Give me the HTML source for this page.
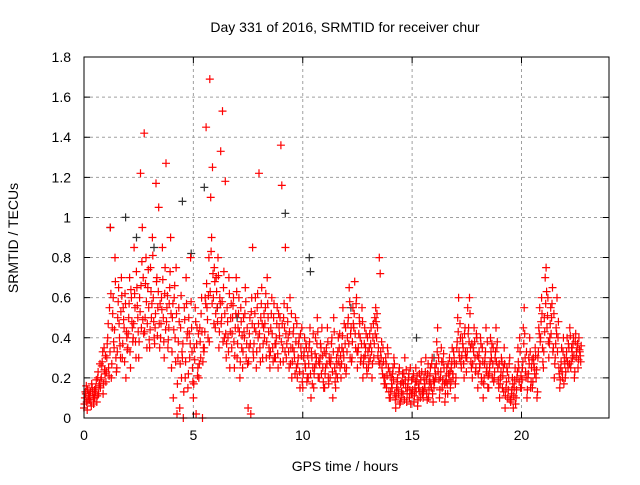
<!DOCTYPE html>
<html><head><meta charset="utf-8"><style>
body{margin:0;background:#fff}
svg text{font-family:"Liberation Sans",sans-serif;font-size:14px;fill:#000}
</style></head><body>
<svg id="chart" width="640" height="480" xmlns="http://www.w3.org/2000/svg">
<text x="345" y="32" text-anchor="middle">Day 331 of 2016, SRMTID for receiver chur</text>
<text x="345" y="471" text-anchor="middle">GPS time / hours</text>
<text transform="translate(18,238) rotate(-90)" text-anchor="middle">SRMTID / TECUs</text>
<g id="grid"></g><g id="black"></g><g id="red"></g><g id="axes"></g>
</svg>
<script>
const xTicks=[0,5,10,15,20];
const yTicks=[0,0.2,0.4,0.6,0.8,1,1.2,1.4,1.6,1.8];
const yTickLabels=["0","0.2","0.4","0.6","0.8","1","1.2","1.4","1.6","1.8"];
const binHours=0.25;
const redBins=[
[0.05,0.1,0.12,0.08,0.14,0.11],[0.09,0.13,0.06,0.15,0.11,0.1],[0.1,0.15,0.08,0.2,0.12,0.17],[0.15,0.2,0.28,0.12,0.35,0.22],
[0.18,0.3,0.4,0.25,0.55,0.95],[0.2,0.45,0.6,0.35,0.8,0.3],[0.25,0.5,0.65,0.4,0.3,0.7],[0.3,0.55,0.45,0.62,0.2,0.4],
[0.35,0.5,0.7,0.25,0.6,0.45],[0.4,0.85,0.55,0.3,0.65,0.5],[0.3,0.6,1.22,0.45,0.95,0.7],[1.42,0.5,0.8,0.35,0.65,0.55],
[0.35,0.75,0.5,0.9,0.6,0.4],[0.45,1.17,0.7,0.55,1.05,0.35],[0.4,0.6,0.85,0.5,0.3,0.75],[1.27,0.55,0.35,0.45,0.65,0.9],
[0.25,0.5,0.1,0.6,0.4,0.75],[0.02,0.3,0.55,0.05,0.45,0.2],[0.3,0.0,0.55,0.2,0.7,0.4],[0.15,0.5,0.3,0.8,0.45,0.25],
[0.1,0.35,0.55,0.02,0.45,0.25],[0.2,0.45,0.3,0.6,0.0,0.35],[0.35,0.6,1.45,0.55,0.4,0.8],[1.69,1.1,0.9,1.25,0.6,0.75],
[0.45,0.7,0.55,0.8,0.35,0.6],[1.33,0.5,1.53,0.65,0.4,1.18],[0.3,0.55,0.4,0.7,0.25,0.5],[0.35,0.5,0.6,0.25,0.45,0.7],
[0.3,0.45,0.6,0.2,0.55,0.35],[0.25,0.5,0.4,0.65,0.3,0.45],[0.05,0.35,0.5,0.02,0.6,0.85],[0.3,0.45,0.6,0.25,0.55,0.4],
[1.22,0.35,0.5,0.65,0.3,0.45],[0.4,0.55,0.3,0.7,0.5,0.35],[0.25,0.45,0.6,0.35,0.5,0.3],[0.3,0.4,0.55,0.25,0.45,0.5],
[1.36,1.16,0.35,0.5,0.45,0.85],[0.3,0.55,0.4,0.25,0.6,0.35],[0.2,0.35,0.45,0.3,0.5,0.25],[0.2,0.3,0.4,0.15,0.35,0.45],
[0.15,0.3,0.4,0.25,0.35,0.2],[0.2,0.35,0.45,0.1,0.3,0.25],[0.15,0.25,0.4,0.3,0.5,0.2],[0.2,0.3,0.35,0.45,0.25,0.15],
[0.15,0.25,0.35,0.45,0.2,0.3],[0.2,0.3,0.4,0.1,0.5,0.25],[0.15,0.3,0.2,0.4,0.35,0.25],[0.2,0.35,0.55,0.3,0.25,0.45],
[0.25,0.4,0.5,0.65,0.3,0.45],[0.3,0.55,0.45,0.68,0.35,0.6],[0.25,0.35,0.5,0.4,0.3,0.55],[0.2,0.3,0.45,0.35,0.25,0.4],
[0.25,0.35,0.3,0.45,0.2,0.4],[0.3,0.5,0.55,0.4,0.45,0.35],[0.8,0.72,0.3,0.25,0.35,0.2],[0.2,0.3,0.15,0.35,0.25,0.1],
[0.1,0.2,0.15,0.25,0.3,0.12],[0.05,0.15,0.2,0.12,0.25,0.08],[0.1,0.18,0.12,0.22,0.3,0.15],[0.08,0.15,0.2,0.1,0.25,0.12],
[0.12,0.2,0.08,0.15,0.25,0.18],[0.06,0.15,0.22,0.1,0.28,0.12],[0.1,0.2,0.15,0.3,0.12,0.22],[0.1,0.18,0.25,0.15,0.3,0.08],
[0.15,0.25,0.2,0.38,0.45,0.3],[0.1,0.2,0.35,0.15,0.28,0.25],[0.08,0.18,0.25,0.12,0.22,0.3],[0.15,0.25,0.35,0.2,0.3,0.1],
[0.2,0.35,0.5,0.6,0.3,0.4],[0.25,0.4,0.35,0.2,0.45,0.3],[0.3,0.55,0.45,0.6,0.35,0.25],[0.2,0.35,0.45,0.3,0.25,0.4],
[0.15,0.3,0.25,0.4,0.2,0.35],[0.1,0.2,0.3,0.45,0.25,0.15],[0.15,0.25,0.4,0.3,0.2,0.35],[0.2,0.3,0.45,0.35,0.25,0.15],
[0.1,0.2,0.3,0.15,0.25,0.35],[0.05,0.15,0.25,0.1,0.2,0.3],[0.08,0.12,0.2,0.05,0.15,0.25],[0.1,0.2,0.35,0.25,0.4,0.15],
[0.15,0.25,0.45,0.55,0.3,0.2],[0.1,0.2,0.3,0.4,0.15,0.25],[0.15,0.3,0.25,0.35,0.2,0.1],[0.3,0.45,0.55,0.4,0.6,0.35],
[0.25,0.5,0.7,0.75,0.45,0.6],[0.3,0.4,0.55,0.5,0.65,0.35],[0.2,0.3,0.45,0.6,0.4,0.25],[0.15,0.25,0.35,0.2,0.4,0.3],
[0.2,0.3,0.4,0.25,0.35,0.45],[0.25,0.35,0.3,0.4,0.2,0.38],[0.3,0.35,0.25,0.4,0.33,0.28]
];
const redBins2=[
[0.07,0.13,0.16,0.04,0.09,0.12],[0.11,0.08,0.17,0.13,0.07,0.14],[0.13,0.19,0.11,0.23,0.16,0.27],[0.19,0.26,0.33,0.17,0.24,0.31],
[0.23,0.37,0.47,0.21,0.33,0.62],[0.27,0.52,0.38,0.44,0.68,0.23],[0.33,0.58,0.47,0.36,0.53,0.61],[0.37,0.49,0.28,0.57,0.43,0.34],
[0.42,0.57,0.33,0.64,0.48,0.38],[0.47,0.62,0.38,0.73,0.56,0.43],[0.38,0.53,0.66,0.78,0.49,0.42],[0.43,0.67,0.58,0.47,0.74,0.39],
[0.44,0.63,0.57,0.81,0.48,0.37],[0.52,0.68,0.41,0.63,0.47,0.57],[0.47,0.54,0.69,0.38,0.62,0.44],[0.48,0.61,0.39,0.57,0.73,0.52],
[0.33,0.57,0.44,0.66,0.28,0.52],[0.17,0.38,0.48,0.27,0.61,0.33],[0.37,0.13,0.49,0.28,0.57,0.43],[0.22,0.42,0.37,0.58,0.33,0.18],
[0.17,0.29,0.48,0.37,0.21,0.42],[0.27,0.38,0.52,0.43,0.28,0.33],[0.43,0.57,0.67,0.49,0.61,0.38],[0.63,0.83,0.57,0.72,0.47,0.68],
[0.52,0.63,0.48,0.71,0.43,0.57],[0.47,0.58,0.38,0.73,0.52,0.42],[0.37,0.48,0.33,0.62,0.43,0.57],[0.42,0.56,0.38,0.31,0.52,0.63],
[0.37,0.52,0.43,0.28,0.48,0.41],[0.33,0.43,0.52,0.58,0.37,0.27],[0.28,0.42,0.37,0.53,0.47,0.33],[0.37,0.52,0.43,0.33,0.62,0.47],
[0.42,0.28,0.57,0.47,0.37,0.52],[0.47,0.62,0.38,0.57,0.43,0.31],[0.33,0.52,0.42,0.28,0.57,0.37],[0.37,0.47,0.32,0.52,0.41,0.28],
[0.38,0.47,0.28,0.57,0.33,0.42],[0.37,0.48,0.33,0.43,0.27,0.52],[0.28,0.42,0.33,0.22,0.38,0.47],[0.27,0.37,0.23,0.42,0.31,0.18],
[0.22,0.33,0.27,0.37,0.18,0.31],[0.27,0.38,0.22,0.33,0.17,0.42],[0.22,0.32,0.27,0.37,0.43,0.28],[0.27,0.37,0.22,0.31,0.18,0.33],
[0.22,0.32,0.27,0.38,0.17,0.28],[0.27,0.37,0.23,0.33,0.43,0.18],[0.22,0.27,0.33,0.28,0.42,0.31],[0.27,0.41,0.33,0.47,0.37,0.22],
[0.33,0.47,0.37,0.58,0.42,0.28],[0.38,0.47,0.52,0.42,0.57,0.33],[0.33,0.42,0.47,0.28,0.37,0.48],[0.27,0.37,0.31,0.42,0.22,0.33],
[0.28,0.42,0.37,0.33,0.27,0.47],[0.37,0.42,0.48,0.52,0.31,0.28],[0.27,0.33,0.38,0.22,0.28,0.17],[0.17,0.27,0.21,0.32,0.13,0.23],
[0.13,0.17,0.22,0.19,0.27,0.09],[0.11,0.18,0.14,0.23,0.07,0.17],[0.13,0.22,0.17,0.09,0.19,0.24],[0.12,0.17,0.22,0.14,0.07,0.19],
[0.14,0.22,0.11,0.18,0.13,0.21],[0.09,0.17,0.13,0.19,0.23,0.14],[0.13,0.17,0.23,0.19,0.09,0.27],[0.14,0.21,0.17,0.27,0.12,0.19],
[0.18,0.22,0.27,0.33,0.23,0.19],[0.14,0.23,0.28,0.19,0.32,0.17],[0.12,0.21,0.17,0.27,0.19,0.23],[0.18,0.28,0.22,0.33,0.27,0.17],
[0.27,0.38,0.43,0.33,0.47,0.28],[0.31,0.37,0.27,0.42,0.33,0.23],[0.33,0.42,0.38,0.52,0.28,0.37],[0.27,0.33,0.38,0.23,0.42,0.31],
[0.22,0.33,0.27,0.37,0.18,0.28],[0.17,0.27,0.33,0.23,0.38,0.21],[0.22,0.28,0.33,0.37,0.27,0.18],[0.23,0.33,0.28,0.38,0.19,0.27],
[0.17,0.23,0.28,0.21,0.13,0.27],[0.11,0.18,0.23,0.14,0.27,0.09],[0.09,0.14,0.17,0.11,0.19,0.07],[0.14,0.23,0.28,0.18,0.33,0.21],
[0.19,0.28,0.37,0.42,0.23,0.33],[0.14,0.22,0.27,0.33,0.18,0.29],[0.18,0.27,0.22,0.31,0.24,0.13],[0.33,0.42,0.38,0.48,0.52,0.28],
[0.33,0.43,0.57,0.63,0.51,0.38],[0.37,0.47,0.42,0.57,0.33,0.52],[0.27,0.37,0.42,0.33,0.48,0.22],[0.19,0.28,0.23,0.33,0.17,0.27],
[0.23,0.33,0.28,0.37,0.27,0.41],[0.28,0.33,0.37,0.31,0.23,0.42],[0.33,0.37,0.29,0.34,0.31,0.36]
];
const blackTimes=[1.2,1.9,3.2,4.5,4.9,5.5,6.1,9.2,10.3,10.35,12.2,15.2,16.0,2.4,7.0];
const blackValues=[0.95,1.0,0.85,1.08,0.82,1.15,0.55,1.02,0.8,0.73,0.55,0.4,0.3,0.9,0.5];

const L=84,R=609,T=57,B=418,XMAX=24,YMAX=1.8;
const xs=v=>L+(R-L)*v/XMAX;
const ys=v=>B-(B-T)*v/YMAX;
const NS="http://www.w3.org/2000/svg";
function mk(tag,attrs,parent){const e=document.createElementNS(NS,tag);for(const k in attrs)e.setAttribute(k,attrs[k]);parent.appendChild(e);return e;}
const grid=document.getElementById('grid'),axes=document.getElementById('axes');
xTicks.forEach((t,i)=>{
  if(t>0){const g=mk('line',{x1:xs(t),x2:xs(t),y1:T,y2:B,stroke:'#a0a0a0','stroke-dasharray':'3,3'},grid);
  
  }
  const tk=mk('path',{d:`M${xs(t)},${B}v-6M${xs(t)},${T}v6`,stroke:'#000'},axes);
  
  
  const lb=mk('text',{x:xs(t),y:B+22,'text-anchor':'middle'},axes);lb.textContent=String(t);
  
  
});
yTicks.forEach((t,i)=>{
  if(t>0&&t<YMAX){const g=mk('line',{x1:L,x2:R,y1:ys(t),y2:ys(t),stroke:'#a0a0a0','stroke-dasharray':'3,3'},grid);
  
  }
  const tk=mk('path',{d:`M${L},${ys(t)}h6M${R},${ys(t)}h-6`,stroke:'#000'},axes);
  
  
  const lb=mk('text',{x:L-13,y:ys(t)+5,'text-anchor':'end'},axes);lb.textContent=yTickLabels[i];
  
  
});
const fr=mk('rect',{x:L,y:T,width:R-L,height:B-T,fill:'none',stroke:'#000'},axes);


function plus(x,y,col,parent,name){
  const p=mk('path',{d:`M${(x-4).toFixed(1)},${y.toFixed(1)}h8M${x.toFixed(1)},${(y-4).toFixed(1)}v8`,stroke:col,'stroke-width':1.2},parent);
  
  
}
const bk=document.getElementById('black');
blackTimes.forEach((t,i)=>plus(xs(t),ys(blackValues[i]),'#333',bk,'black-point'));
const rd=document.getElementById('red');
redBins.forEach((vals,b)=>vals.forEach((v,k)=>plus(xs(b*binHours+k*binHours/vals.length),ys(v),'#ff0000',rd,'red-point')));
redBins2.forEach((vals,b)=>vals.forEach((v,k)=>plus(xs(b*binHours+(k+0.5)*binHours/vals.length),ys(v),'#ff0000',rd,'red-point')));
</script>
</body></html>
